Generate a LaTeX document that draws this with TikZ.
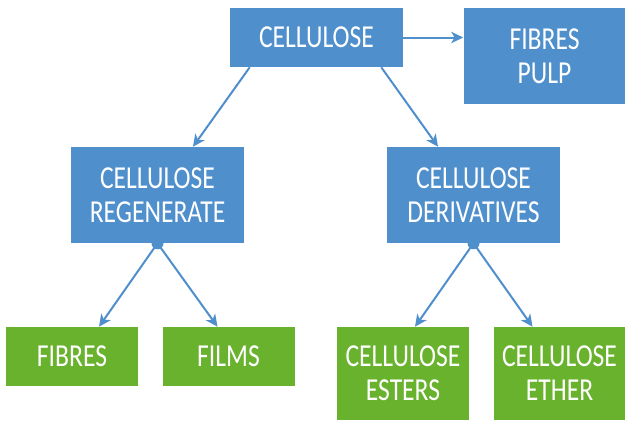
\documentclass[tikz,border=0pt]{standalone}
\usepackage{fontspec}
\setmainfont[FakeStretch=0.8]{Carlito}
\usetikzlibrary{arrows.meta,positioning}
\definecolor{cellblue}{RGB}{79,143,204}
\definecolor{cellgreen}{RGB}{104,178,46}

\begin{document}
\begin{tikzpicture}[
    x=0.75pt, y=-0.75pt,
    box/.style={rectangle, inner sep=0pt, text=white, align=center, font=\fontsize{24}{25.5}\selectfont},
    bluebox/.style={box, fill=cellblue, minimum width=129.75pt},
    greenbox/.style={box, fill=cellgreen, minimum width=99pt},
    arrow/.style={-{Stealth[length=9pt, width=8.5pt, inset=2.5pt]}, draw=cellblue, line width=1.5pt}
]
\useasboundingbox (0,0) rectangle (625,422);

\node[bluebox, minimum height=44.25pt] (cell) at (316.5,37.5) {CELLULOSE};
\node[bluebox, minimum width=121.5pt, minimum height=72pt, right=45pt of cell.north east, anchor=north west] (pulp) {FIBRES\\PULP};
\node[bluebox, minimum height=72pt] (regen) at (157.5,195) {CELLULOSE\\REGENERATE};
\node[bluebox, minimum height=72pt] (deriv) at (473.5,195) {CELLULOSE\\DERIVATIVES};

\node[greenbox, minimum height=44.25pt] (fibres) at (72,356.5) {FIBRES};
\node[greenbox, minimum height=44.25pt, right=18pt of fibres] (films) {FILMS};
\node[greenbox, minimum height=69.75pt] (esters) at (403,373.5) {CELLULOSE\\ESTERS};
\node[greenbox, minimum height=69.75pt, right=18pt of esters] (ether) {CELLULOSE\\ETHER};

\draw[arrow] (cell.east) -- (cell.east -| pulp.west);
\draw[arrow] ([xshift=15pt]cell.south west) -- ([xshift=26.6pt]regen.north);
\draw[arrow] ([xshift=-16.5pt]cell.south east) -- ([xshift=-26.6pt]deriv.north);

% branch dots
\fill[cellblue] (regen.south) circle (4.5pt);
\fill[cellblue] (deriv.south) circle (4.5pt);

\draw[arrow] (regen.south) -- ([xshift=20.25pt]fibres.north);
\draw[arrow] (regen.south) -- ([xshift=-8.25pt]films.north);
\draw[arrow] (deriv.south) -- ([xshift=9pt]esters.north);
\draw[arrow] (deriv.south) -- ([xshift=-20.25pt]ether.north);
\end{tikzpicture}
\end{document}
